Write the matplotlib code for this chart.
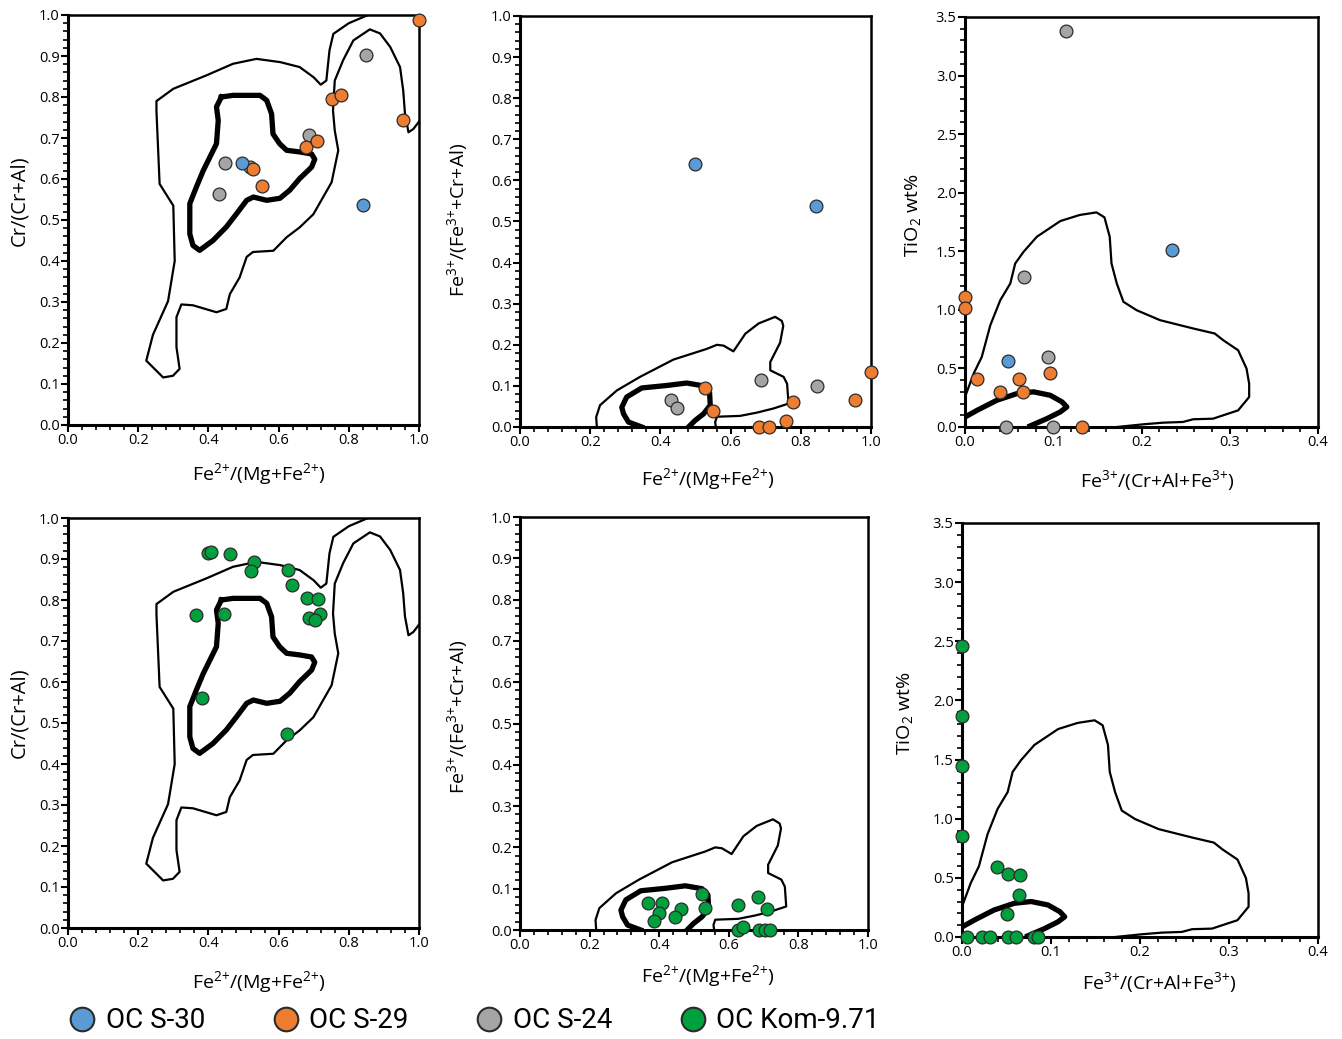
import matplotlib
matplotlib.use('Agg')
import matplotlib.pyplot as plt
from matplotlib.lines import Line2D
from matplotlib.ticker import MultipleLocator

plt.rcParams['font.family'] = ['Open Sans', 'DejaVu Sans']
plt.rcParams['mathtext.fontset'] = 'custom'
plt.rcParams['mathtext.rm'] = 'Open Sans'

# ---- colours of the samples
c_s30 = '#5B9BD5'
c_s29 = '#ED7D31'
c_s24 = '#A5A5A5'
c_kom = '#00A03E'

# ---- field outlines, Cr# vs Fe#
cr_thin_x = [0.855, 0.80, 0.756, 0.745, 0.736, 0.72, 0.70, 0.66, 0.605, 0.537, 0.47, 0.395,
             0.30, 0.252, 0.252, 0.261, 0.30, 0.304, 0.285, 0.242, 0.223, 0.271, 0.299,
             0.318, 0.309, 0.309, 0.323, 0.356, 0.423, 0.451, 0.461, 0.489, 0.509, 0.527,
             0.585, 0.623, 0.66, 0.699, 0.751, 0.77, 0.76, 0.755, 0.76, 0.784, 0.813, 0.86,
             0.889, 0.918, 0.946, 0.955, 0.96, 0.97, 0.984, 1.0]
cr_thin_y = [1.0, 0.98, 0.954, 0.914, 0.84, 0.83, 0.848, 0.873, 0.885, 0.893, 0.881, 0.853,
             0.82, 0.79, 0.766, 0.588, 0.535, 0.40, 0.302, 0.22, 0.157, 0.116, 0.12,
             0.137, 0.19, 0.263, 0.294, 0.292, 0.275, 0.283, 0.319, 0.36, 0.41, 0.422,
             0.425, 0.458, 0.482, 0.514, 0.592, 0.67, 0.718, 0.767, 0.84, 0.89, 0.938, 0.965,
             0.955, 0.922, 0.873, 0.816, 0.76, 0.714, 0.722, 0.74]

cr_thick_x = [0.437, 0.47, 0.547, 0.566, 0.58, 0.584, 0.603, 0.623, 0.66, 0.694, 0.703, 0.694,
              0.66, 0.632, 0.604, 0.566, 0.528, 0.509, 0.48, 0.451, 0.413, 0.375, 0.356,
              0.347, 0.347, 0.366, 0.385, 0.423, 0.428, 0.423, 0.437]
cr_thick_y = [0.80, 0.804, 0.804, 0.792, 0.759, 0.71, 0.686, 0.67, 0.666, 0.661, 0.648, 0.629,
              0.601, 0.573, 0.553, 0.548, 0.556, 0.548, 0.515, 0.483, 0.45, 0.426, 0.438,
              0.466, 0.54, 0.581, 0.62, 0.686, 0.743, 0.776, 0.80]

# ---- field outlines, Fe3# vs Fe#
fe_thin_x = [0.219, 0.217, 0.228, 0.276, 0.342, 0.437, 0.532, 0.561, 0.58, 0.608, 0.642, 0.68,
             0.727, 0.746, 0.75, 0.741, 0.713, 0.713, 0.751, 0.761, 0.765, 0.722, 0.675,
             0.627, 0.561, 0.556, 0.558]
fe_thin_y = [0.0, 0.024, 0.053, 0.089, 0.122, 0.164, 0.19, 0.20, 0.198, 0.184, 0.227, 0.252,
             0.268, 0.258, 0.246, 0.205, 0.158, 0.138, 0.122, 0.105, 0.057, 0.045, 0.035,
             0.027, 0.025, 0.012, 0.0]

fe_thick_x = [0.347, 0.309, 0.295, 0.290, 0.304, 0.347, 0.418, 0.475, 0.523, 0.54, 0.542,
              0.523, 0.499, 0.48]
fe_thick_y = [0.0, 0.012, 0.032, 0.048, 0.073, 0.095, 0.101, 0.107, 0.100, 0.085, 0.053,
              0.032, 0.016, 0.0]

# ---- field outlines, TiO2 vs Fe3/(Cr+Al+Fe3)
ti_thin_x = [0.0, 0.0098, 0.019, 0.0287, 0.04, 0.0513, 0.0569, 0.0664, 0.0814, 0.108, 0.130,
             0.149, 0.158, 0.164, 0.166, 0.172, 0.1795, 0.1945, 0.221, 0.2586, 0.283, 0.2926,
             0.3095, 0.319, 0.322, 0.322, 0.3095, 0.281, 0.2586, 0.247, 0.2247, 0.202, 0.172]
ti_thin_y = [0.256, 0.456, 0.598, 0.869, 1.083, 1.225, 1.396, 1.496, 1.624, 1.758, 1.81,
             1.832, 1.79, 1.624, 1.396, 1.225, 1.069, 0.997, 0.912, 0.841, 0.798, 0.741,
             0.655, 0.499, 0.37, 0.256, 0.142, 0.071, 0.066, 0.043, 0.037, 0.023, 0.0]

ti_thick_x = [0.0, 0.0136, 0.036, 0.0588, 0.0777, 0.0965, 0.11, 0.1154, 0.1078, 0.0927, 0.071]
ti_thick_y = [0.085, 0.142, 0.228, 0.285, 0.30, 0.271, 0.214, 0.171, 0.128, 0.071, 0.0]

# ---- samples, top row
s30_fe = [0.497, 0.841]
s30_cr = [0.640, 0.537]
s30_fe_b = [0.498, 0.842]
s30_fe3 = [0.641, 0.538]
s30_fe3r = [0.235, 0.0486]
s30_ti = [1.51, 0.561]

s29_fe = [0.528, 0.552, 0.678, 0.708, 0.753, 0.778, 0.953, 1.0]
s29_cr = [0.625, 0.583, 0.679, 0.692, 0.795, 0.806, 0.745, 0.989]
s29_fe_b = [0.526, 0.551, 0.68, 0.708, 0.757, 0.779, 0.954, 1.0]
s29_fe3 = [0.095, 0.039, 0.0, 0.0, 0.014, 0.061, 0.0665, 0.134]
s29_fe3r = [0.0, 0.0, 0.0132, 0.0392, 0.0607, 0.066, 0.0958, 0.133]
s29_ti = [1.11, 1.02, 0.408, 0.30, 0.408, 0.30, 0.462, 0.0]

s24_fe = [0.447, 0.43, 0.518, 0.687, 0.848]
s24_cr = [0.639, 0.564, 0.629, 0.707, 0.902]
s24_fe_b = [0.431, 0.447, 0.686, 0.847]
s24_fe3 = [0.0665, 0.047, 0.115, 0.10]
s24_fe3r = [0.1146, 0.0667, 0.0946, 0.0467, 0.0999]
s24_ti = [3.377, 1.282, 0.598, 0.0, 0.0]

# ---- samples, bottom row
kom_fe = [0.398, 0.407, 0.461, 0.531, 0.522, 0.626, 0.639, 0.681, 0.712, 0.365, 0.444, 0.717,
          0.688, 0.704, 0.383, 0.624]
kom_cr = [0.9145, 0.916, 0.912, 0.8925, 0.870, 0.873, 0.837, 0.806, 0.802, 0.764, 0.765,
          0.765, 0.756, 0.752, 0.562, 0.472]
kom_fe_b = [0.367, 0.408, 0.40, 0.386, 0.464, 0.446, 0.523, 0.532, 0.627, 0.684, 0.711,
            0.625, 0.641, 0.686, 0.703, 0.718]
kom_fe3 = [0.0645, 0.0645, 0.040, 0.0226, 0.052, 0.032, 0.086, 0.053, 0.060, 0.081, 0.052,
           0.0, 0.0065, 0.0, 0.0, 0.0]
kom_fe3r = [0.0, 0.0, 0.0, 0.0, 0.0397, 0.0517, 0.0648, 0.0637, 0.0506, 0.0056, 0.0225,
            0.032, 0.0517, 0.0603, 0.081, 0.0854]
kom_ti = [2.461, 1.868, 1.448, 0.852, 0.593, 0.531, 0.522, 0.353, 0.192, 0.0, 0.0, 0.0,
          0.0, 0.0, 0.0, 0.0]

lbl_fe = r'Fe$^{2\!+}\!$/(Mg+Fe$^{2\!+}\!$)'
lbl_cr = 'Cr/(Cr+Al)'
lbl_fe3 = r'Fe$^{3\!+}\!$/(Fe$^{3\!+}\!$+Cr+Al)'
lbl_fe3r = r'Fe$^{3\!+}\!$/(Cr+Al+Fe$^{3\!+}\!$)'
lbl_ti = r'TiO$_2$ wt%'

W, H = 1342, 1039
fig = plt.figure(figsize=(W / 100, H / 100), dpi=100)


def box(l, r, t, b):
    return [l / W, 1 - b / H, (r - l) / W, (b - t) / H]


def style(ax, xmax, ymax, xmaj, xmin, ymaj, ymin):
    ax.set_xlim(0, xmax)
    ax.set_ylim(0, ymax)
    ax.xaxis.set_major_locator(MultipleLocator(xmaj))
    ax.xaxis.set_minor_locator(MultipleLocator(xmin))
    ax.yaxis.set_major_locator(MultipleLocator(ymaj))
    ax.yaxis.set_minor_locator(MultipleLocator(ymin))
    ax.xaxis.set_major_formatter(lambda v, p: f'{v:.1f}')
    ax.yaxis.set_major_formatter(lambda v, p: f'{v:.1f}')
    ax.tick_params(which='major', direction='out', length=5, width=1.5, labelsize=10.5, pad=1)
    ax.tick_params(which='minor', direction='out', length=3.5, width=1.2)
    for s in ax.spines.values():
        s.set_linewidth(1.8)
    for s in ['left', 'bottom']:
        ax.spines[s].set_linewidth(2.2)


def dots(ax, x, y, c):
    ax.scatter(x, y, s=85, c=c, edgecolors='#2b2b2b', linewidths=0.9, zorder=5, clip_on=False)


axes = {
    'tl': fig.add_axes(box(68, 419, 15, 425)),
    'tm': fig.add_axes(box(520, 871, 16, 427)),
    'tr': fig.add_axes(box(965, 1318, 17, 427)),
    'bl': fig.add_axes(box(68, 419, 518, 928)),
    'bm': fig.add_axes(box(520, 868, 517, 930)),
    'br': fig.add_axes(box(962, 1318, 523, 937)),
}

# label placements in axes fractions
xlab_pos = {'tl': (0.545, -0.090), 'tm': (0.535, -0.097), 'tr': (0.545, -0.100),
            'bl': (0.545, -0.102), 'bm': (0.54, -0.080), 'br': (0.555, -0.080)}
ylab_pos = {'tl': (-0.111, 0.546), 'tm': (-0.14, 0.504), 'tr': (-0.116, 0.517),
            'bl': (-0.111, 0.524), 'bm': (-0.14, 0.516), 'br': (-0.129, 0.541)}

for k in ['tl', 'bl']:
    ax = axes[k]
    ax.plot(cr_thin_x, cr_thin_y, color='black', lw=1.6)
    ax.plot(cr_thick_x, cr_thick_y, color='black', lw=3.8, solid_joinstyle='round')
    style(ax, 1.0, 1.0, 0.2, 0.04, 0.1, 0.02)
    ax.set_xlabel(lbl_fe, fontsize=14)
    ax.set_ylabel(lbl_cr, fontsize=14.5)

for k in ['tm', 'bm']:
    ax = axes[k]
    ax.plot(fe_thin_x, fe_thin_y, color='black', lw=1.6)
    ax.plot(fe_thick_x, fe_thick_y, color='black', lw=3.8, solid_joinstyle='round')
    style(ax, 1.0, 1.0, 0.2, 0.04, 0.1, 0.02)
    ax.set_xlabel(lbl_fe, fontsize=14)
    ax.set_ylabel(lbl_fe3, fontsize=14)

for k in ['tr', 'br']:
    ax = axes[k]
    ax.plot(ti_thin_x, ti_thin_y, color='black', lw=1.6)
    ax.plot(ti_thick_x, ti_thick_y, color='black', lw=3.8, solid_capstyle='butt')
    style(ax, 0.4, 3.5, 0.1, 0.02, 0.5, 0.1)
    ax.set_xlabel(lbl_fe3r, fontsize=14)
    ax.set_ylabel(lbl_ti, fontsize=14)

for k, ax in axes.items():
    ax.xaxis.set_label_coords(*xlab_pos[k])
    ax.yaxis.set_label_coords(*ylab_pos[k])

dots(axes['tl'], s24_fe, s24_cr, c_s24)
dots(axes['tl'], s30_fe, s30_cr, c_s30)
dots(axes['tl'], s29_fe, s29_cr, c_s29)
dots(axes['tm'], s24_fe_b, s24_fe3, c_s24)
dots(axes['tm'], s30_fe_b, s30_fe3, c_s30)
dots(axes['tm'], s29_fe_b, s29_fe3, c_s29)
dots(axes['tr'], s24_fe3r, s24_ti, c_s24)
dots(axes['tr'], s30_fe3r, s30_ti, c_s30)
dots(axes['tr'], s29_fe3r, s29_ti, c_s29)
dots(axes['bl'], kom_fe, kom_cr, c_kom)
dots(axes['bm'], kom_fe_b, kom_fe3, c_kom)
dots(axes['br'], kom_fe3r, kom_ti, c_kom)

handles = [Line2D([], [], ls='none', marker='o', ms=17, mfc=c, mec='#2b2b2b', mew=1.5, label=n)
           for c, n in [(c_s30, 'OC S-30'), (c_s29, 'OC S-29'), (c_s24, 'OC S-24'),
                        (c_kom, 'OC Kom-9.71')]]
fig.legend(handles=handles, loc='center', bbox_to_anchor=(474 / W, 1 - 1021 / H), ncol=4,
           frameon=False, prop={'family': ['Roboto', 'DejaVu Sans'], 'size': 20},
           handletextpad=0.35, columnspacing=2.4, handlelength=1.0)

fig.savefig('out.png', dpi=100)
